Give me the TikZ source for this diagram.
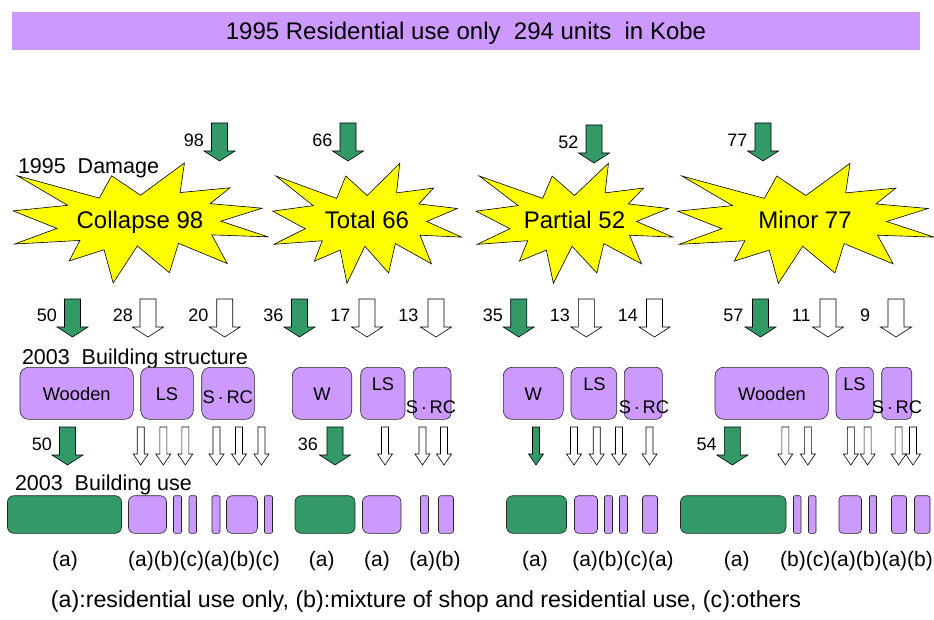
\documentclass[tikz,border=0pt]{standalone}
\usepackage{fontspec}
\setmainfont{Liberation Sans}
\definecolor{bpurple}{HTML}{CC99FF}
\definecolor{bgreen}{HTML}{339966}
\definecolor{byellow}{HTML}{FFFF00}
\newcommand{\setfs}[1]{\fontsize{#1}{#1}\selectfont}
\newcommand{\srctext}{S{\kern2.8pt}·{\kern2.8pt}RC}
\newcommand{\mybox}[6]{%
  \pgfmathsetmacro{\bw}{#4-#2}\pgfmathsetmacro{\bh}{#5-#3}%
  \pgfmathsetmacro{\br}{0.1667*min(\bw,\bh)}%
  \node[draw=black!85, line width=0.6pt, fill=#6, rounded corners=\br pt,
        minimum width=\bw pt, minimum height=\bh pt, inner sep=0pt, outer sep=0pt,
        anchor=north west] (#1) at (#2,#3) {};}
\tikzset{
  bigarrow/.pic={\draw[pic actions] (-8,0) -- (8,0) -- (8,28) -- (15.5,28) -- (0,38) -- (-15.5,28) -- (-8,28) -- cycle;},
  smallarrow/.pic={\draw[pic actions] (-3.5,0) -- (3.5,0) -- (3.5,27) -- (7.5,27) -- (0,38) -- (-7.5,27) -- (-3.5,27) -- cycle;},
  explosion/.pic={\draw[pic actions] (108,58) -- (145.22,0) -- (141.55,53.25) -- (183.80,44.57) -- (167.02,73.15) -- (210.97,81.37) -- (176.07,104.75) -- (216,132.90) -- (168.37,129.42) -- (181.45,180.95) -- (140.20,144.57) -- (132.47,197.37) -- (105.32,149.35) -- (84.85,216) -- (77.15,156.27) -- (47.62,176.17) -- (56.67,139.37) -- (1.35,145.87) -- (37.22,117.75) -- (0,86.15) -- (46.27,76.17) -- (3.70,22.95) -- (73.12,63.20) -- (83.52,22.95) -- cycle;},
  garr/.style={fill=bgreen, draw=black, line width=0.6pt},
  warr/.style={fill=white, draw=black, line width=0.6pt},
  star/.style={fill=byellow, draw=black, line width=0.6pt},
  txt/.style={anchor=base, inner sep=0pt, outer sep=0pt},
  num/.style={anchor=base east, inner sep=0pt, outer sep=0pt, font=\setfs{18}},
  boxt/.style={anchor=base, inner sep=0pt, outer sep=0pt, font=\setfs{18.3}},
  head/.style={anchor=base west, inner sep=0pt, outer sep=0pt, font=\setfs{21.5}},
  uselbl/.style={anchor=base, inner sep=0pt, outer sep=0pt, font=\setfs{21}},
}
\begin{document}
\begin{tikzpicture}[x=1pt,y=-1pt]
\useasboundingbox (0,0) rectangle (934,620);
% banner
\node[fill=bpurple, minimum width=908pt, minimum height=38pt, inner sep=0pt, outer sep=0pt, anchor=north west] (banner) at (12,12) {};
\node[txt, font=\setfs{24}] (bannertext) at (466,40) {1995 Residential use only\ \ 294 units\ \ in Kobe};
% top arrows
\pic[garr] at (219.5,123) {bigarrow};
\pic[garr] at (348,123) {bigarrow};
\pic[garr] at (594,125) {bigarrow};
\pic[garr] at (763,123) {bigarrow};
\node[num] (n98) at (204,146.7) {98};
\node[num] (n66) at (332.5,146.7) {66};
\node[num] (n52) at (578.5,148.3) {52};
\node[num] (n77) at (747.5,146.7) {77};
\node[head] (damage) at (18,173.3) {1995\ \ Damage};
% stars
\pic[star, xscale=255/216, yscale=120/216] at (13,163) {explosion};
\pic[star, xscale=189/216, yscale=120/216] at (272.7,163.3) {explosion};
\pic[star, xscale=197/216, yscale=120/216] at (476,163.3) {explosion};
\pic[star, xscale=256.5/216, yscale=120/216] at (677.6,163.3) {explosion};
\node[txt, font=\setfs{24}] (collapse) at (140,228.3) {Collapse 98};
\node[txt, font=\setfs{24}] (total) at (367,228.3) {Total 66};
\node[txt, font=\setfs{24}] (partial) at (574.5,228.3) {Partial 52};
\node[txt, font=\setfs{24}] (minor) at (805,228.8) {Minor 77};
% middle arrows
\foreach \x/\s in {72.5/garr,148/warr,224.7/warr,299.5/garr,367/warr,436/warr,518.7/garr,586.3/warr,654.5/warr,760.5/garr,828/warr,896/warr}
  \pic[\s] at (\x,299) {bigarrow};
\node[num] (m50) at (57,321.7) {50};
\node[num] (m28) at (133,321.7) {28};
\node[num] (m20) at (208.5,321.7) {20};
\node[num] (m36) at (283.5,321.7) {36};
\node[num] (m17) at (350.5,321.7) {17};
\node[num] (m13a) at (418.5,321.7) {13};
\node[num] (m35) at (503,321.7) {35};
\node[num] (m13b) at (570,321.7) {13};
\node[num] (m14) at (638,321.7) {14};
\node[num] (m57) at (743.5,321.7) {57};
\node[num] (m11) at (810.5,321.7) {11};
\node[num] (m9) at (870,321.7) {9};
% structure
\node[head] (structure) at (22,364) {2003\ \ Building structure};
\mybox{s1}{20}{367.3}{133.3}{419.3}{bpurple}
\mybox{s2}{140.7}{367.3}{193.3}{419.3}{bpurple}
\mybox{s3}{201.7}{367.3}{254.3}{419.3}{bpurple}
\mybox{s4}{292.3}{367.3}{351.7}{419.3}{bpurple}
\mybox{s5}{360.7}{367.3}{405}{419.3}{bpurple}
\mybox{s6}{413.3}{367.3}{451}{419.3}{bpurple}
\mybox{s7}{503.3}{367.3}{563.3}{419.3}{bpurple}
\mybox{s8}{571}{367.3}{616.7}{419.3}{bpurple}
\mybox{s9}{624.3}{367.3}{662.3}{419.3}{bpurple}
\mybox{s10}{715}{367.3}{828.3}{419.3}{bpurple}
\mybox{s11}{836}{367.3}{873.3}{419.3}{bpurple}
\mybox{s12}{881.7}{367.3}{911.7}{419.3}{bpurple}
\node[boxt] (t1) at (76.7,400.7) {Wooden};
\node[boxt] (t2) at (167,400.7) {LS};
\node[boxt] (t3) at (227.8,403.3) {\srctext};
\node[boxt] (t4) at (322,400.7) {W};
\node[boxt] (t5) at (383,390) {LS};
\node[boxt] (t6) at (431,413.3) {\srctext};
\node[boxt] (t7) at (533.3,400.7) {W};
\node[boxt] (t8) at (594.5,390) {LS};
\node[boxt] (t9) at (644,413.3) {\srctext};
\node[boxt] (t10) at (772,400.7) {Wooden};
\node[boxt] (t11) at (854.5,390) {LS};
\node[boxt] (t12) at (897,413.3) {\srctext};
% lower arrows
\foreach \x in {67.5,335,732.3}
  \pic[garr] at (\x,427) {bigarrow};
\foreach \x in {140.7,163.3,185.3,216.5,239,261.5,385,422.5,444,574,596.7,619,649.5,785.3,807.8,850.8,867.6,898.6,913}
  \pic[warr] at (\x,427) {smallarrow};
\pic[garr] at (536,427) {smallarrow};
\node[num] (l50) at (52,450) {50};
\node[num] (l36) at (318,450) {36};
\node[num] (l54) at (716.7,450) {54};
% use
\node[head] (use) at (15,490) {2003\ \ Building use};
\mybox{u1}{7.5}{495.7}{121.5}{533.3}{bgreen}
\mybox{u2}{128.5}{495.7}{166.5}{533.3}{bpurple}
\mybox{u3}{173.5}{495.7}{181.5}{533.3}{bpurple}
\mybox{u4}{189}{495.7}{196.5}{533.3}{bpurple}
\mybox{u5}{212}{495.7}{220}{533.3}{bpurple}
\mybox{u6}{226.5}{495.7}{257.5}{533.3}{bpurple}
\mybox{u7}{264.5}{495.7}{272.5}{533.3}{bpurple}
\mybox{u8}{295}{495.7}{355}{533.3}{bgreen}
\mybox{u9}{362.5}{495.7}{401}{533.3}{bpurple}
\mybox{u10}{420.5}{495.7}{428.5}{533.3}{bpurple}
\mybox{u11}{438.5}{495.7}{453.5}{533.3}{bpurple}
\mybox{u12}{506.5}{495.7}{566.5}{533.3}{bgreen}
\mybox{u13}{574.5}{495.7}{597.5}{533.3}{bpurple}
\mybox{u14}{604.5}{495.7}{612.5}{533.3}{bpurple}
\mybox{u15}{619.5}{495.7}{627.5}{533.3}{bpurple}
\mybox{u16}{642.5}{495.7}{657.5}{533.3}{bpurple}
\mybox{u17}{680.5}{495.7}{786}{533.3}{bgreen}
\mybox{u18}{793.5}{495.7}{801}{533.3}{bpurple}
\mybox{u19}{808.5}{495.7}{816}{533.3}{bpurple}
\mybox{u20}{839}{495.7}{861.5}{533.3}{bpurple}
\mybox{u21}{869.5}{495.7}{876.5}{533.3}{bpurple}
\mybox{u22}{891.5}{495.7}{906.5}{533.3}{bpurple}
\mybox{u23}{914.5}{495.7}{930}{533.3}{bpurple}
% use labels
\node[uselbl] (a1) at (65,566) {(a)};
\node[uselbl] (a2) at (204,566) {(a)(b)(c)(a)(b)(c)};
\node[uselbl] (a3) at (321.7,566) {(a)};
\node[uselbl] (a4) at (377,566) {(a)};
\node[uselbl] (a5) at (435,566) {(a)(b)};
\node[uselbl] (a6) at (535,566) {(a)};
\node[uselbl] (a7) at (623,566) {(a)(b)(c)(a)};
\node[uselbl] (a8) at (736.7,566) {(a)};
\node[uselbl] (a9) at (856.5,566) {(b)(c)(a)(b)(a)(b)};
% footer
\node[txt, font=\setfs{23.2}] (footer) at (426,607) {(a):residential use only, (b):mixture of shop and residential use, (c):others};
\end{tikzpicture}
\end{document}
